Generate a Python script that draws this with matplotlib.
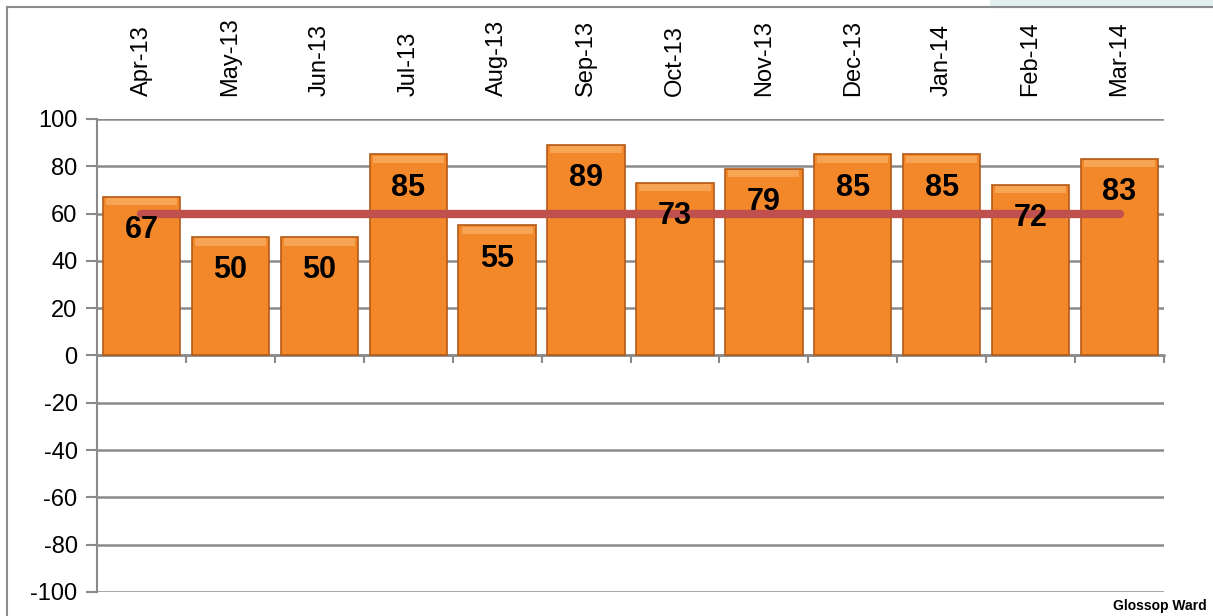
import matplotlib.pyplot as plt
from matplotlib.patches import Rectangle

months = ['Apr-13', 'May-13', 'Jun-13', 'Jul-13', 'Aug-13', 'Sep-13',
          'Oct-13', 'Nov-13', 'Dec-13', 'Jan-14', 'Feb-14', 'Mar-14']
values = [67, 50, 50, 85, 55, 89, 73, 79, 85, 85, 72, 83]
target = [60] * 12
y_ticks = list(range(-100, 101, 20))

plt.rcParams['font.family'] = ['Liberation Sans', 'DejaVu Sans']
plt.rcParams['axes.unicode_minus'] = False

fig = plt.figure(figsize=(12.13, 6.16), dpi=100)
ax = fig.add_axes([97 / 1213, 1 - 592 / 616, (1164 - 97) / 1213, (592 - 119) / 616])

# frame round the chart area and faint band at the top right
fig.patches.append(Rectangle((990 / 1213, 1 - 7 / 616), 1 - 990 / 1213, 7 / 616,
                             transform=fig.transFigure, color='#E4EFEF', zorder=0))
fig.add_artist(plt.Line2D([7 / 1213, 1], [1 - 7 / 616, 1 - 7 / 616],
                          transform=fig.transFigure, color='#8C8C8C', lw=1.5))
fig.add_artist(plt.Line2D([7 / 1213, 7 / 1213], [0, 1 - 7 / 616],
                          transform=fig.transFigure, color='#8C8C8C', lw=1.5))

x = list(range(len(months)))
ax.bar(x, values, width=0.87, color='#F2882A', edgecolor='#B45A18', linewidth=1.2, zorder=3)
# lighter bevel along the top of each bar
ax.bar(x, [3] * len(values), bottom=[v - 3.5 for v in values], width=0.80,
       color='#F7A455', linewidth=0, zorder=3)
ax.plot(x, target, color='#C0504D', lw=6, solid_capstyle='round', zorder=4)

for xi, v in zip(x, values):
    ax.text(xi, v - 14, str(v), ha='center', va='center', fontsize=22,
            fontweight='bold', color='black', zorder=5)

ax.set_xlim(-0.5, 11.5)
ax.set_ylim(-100, 100)
ax.set_yticks(y_ticks)
ax.yaxis.grid(True, color='#8A8A8A', lw=1.8)
ax.set_axisbelow(True)
ax.tick_params(axis='y', labelsize=17, length=8, width=1.5, color='#8A8A8A', pad=6)

ax.set_xticks(x)
ax.set_xticklabels(months)
ax.set_xticks([i + 0.5 for i in range(12)], minor=True)
ax.tick_params(axis='x', which='major', bottom=False, top=False,
               labelbottom=False, labeltop=True, labelsize=17, pad=13,
               labelrotation=90)
ax.tick_params(axis='x', which='minor', bottom=True, top=False, length=6,
               width=1.5, color='#8A8A8A')

for s in ['top', 'right']:
    ax.spines[s].set_visible(False)
ax.spines['bottom'].set_position(('data', 0))
ax.spines['bottom'].set_color('#8A8A8A')
ax.spines['bottom'].set_linewidth(1.8)
ax.spines['left'].set_color('#8A8A8A')
ax.spines['left'].set_linewidth(1.5)

fig.text(1207 / 1213, 1 - 606 / 616, 'Glossop Ward', ha='right', va='center',
         fontsize=10, fontweight='bold')

fig.savefig('out.png', dpi=100)
